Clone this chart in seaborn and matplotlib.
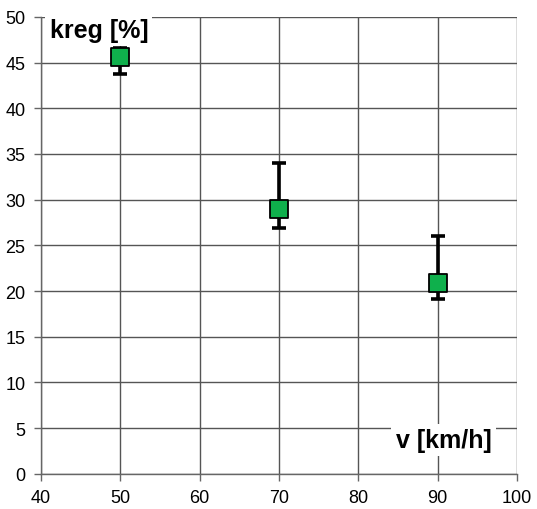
import numpy as np
import pandas as pd
import matplotlib
matplotlib.use("Agg")
import matplotlib.pyplot as plt
import seaborn as sns

# data
speed = [50, 70, 90]
kreg = [45.6, 29.0, 20.9]
kreg_low = [43.7, 26.9, 19.1]
kreg_high = [46.6, 34.0, 26.0]

sns.set_theme(style="white")
plt.rcParams["font.family"] = ["Liberation Sans", "DejaVu Sans"]
plt.rcParams["text.color"] = "black"

df = pd.DataFrame({"v": speed, "kreg": kreg, "lo": kreg_low, "hi": kreg_high})

fig = plt.figure(figsize=(5.37, 5.10), dpi=100)
ax = fig.add_axes([0.076, 0.069, 0.887, 0.896])

ax.errorbar(df["v"], df["kreg"],
            yerr=[df["kreg"] - df["lo"], df["hi"] - df["kreg"]],
            fmt="none", ecolor="black", elinewidth=2.6, capsize=5, capthick=2.6, zorder=3)
sns.scatterplot(data=df, x="v", y="kreg", marker="s", s=160, color="#0fb04c",
                edgecolor="black", linewidth=1.3, ax=ax, zorder=4, legend=False)

ax.set_xlim(40, 100)
ax.set_ylim(0, 50)
ax.set_xticks(np.arange(40, 101, 10))
ax.set_yticks(np.arange(0, 51, 5))
ax.grid(True, color="#555555", linewidth=1.0)
ax.set_axisbelow(True)
for side in ["top", "right"]:
    ax.spines[side].set_visible(False)
for side in ["left", "bottom"]:
    ax.spines[side].set_color("#666666")
    ax.spines[side].set_linewidth(1.0)
ax.tick_params(axis="both", direction="out", length=5, width=1.0, color="#666666",
               labelsize=13, labelcolor="black", pad=6, left=True, bottom=True)
ax.set_xlabel("")
ax.set_ylabel("")

ax.text(41.1, 49.9, "kreg [%]", fontsize=18, fontweight="bold", va="top", ha="left",
        color="black", bbox=dict(facecolor="white", edgecolor="none", pad=3), zorder=5)
ax.text(84.7, 5.0, "v [km/h]", fontsize=18, fontweight="bold", va="top", ha="left",
        color="black", bbox=dict(facecolor="white", edgecolor="none", pad=3), zorder=5)

fig.savefig("out.png", dpi=100)
